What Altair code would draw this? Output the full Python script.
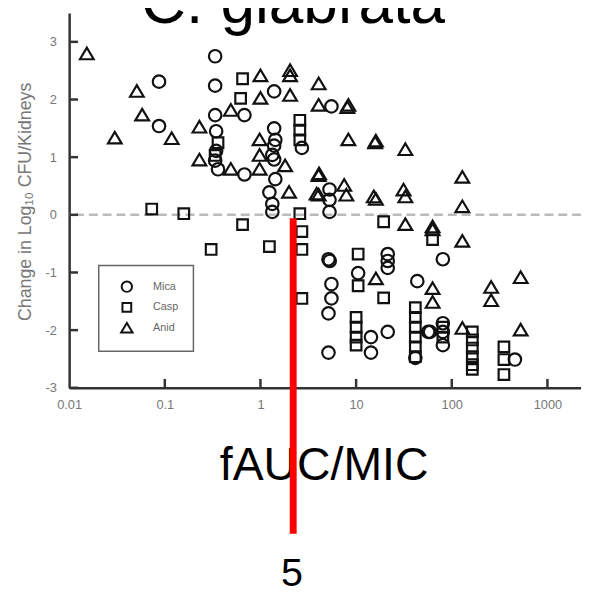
import altair as alt
import pandas as pd

# ---- data (fAUC/MIC, change in log10 CFU) ----
mica_x = [0.087, 0.087, 0.336, 0.336, 0.336, 0.68, 0.344, 1.39, 1.39, 1.43, 2.71, 5.52,
          0.344, 0.336, 0.36, 0.68, 1.33, 1.39, 1.43, 1.24, 1.33, 1.33, 5.27, 5.27, 5.27,
          5.14, 5.3, 5.52, 5.52, 5.14, 5.14, 10.5, 14.3, 14.3, 21.4, 21.4, 21.4, 21.4,
          80.7, 43.6, 41.6, 59.3, 80.7, 80.7, 80.7, 457, 56.6, 1.39]
mica_y = [2.31, 1.54, 2.75, 2.24, 1.73, 1.73, 1.45, 2.14, 1.50, 1.30, 1.16, 1.88,
          1.11, 0.94, 0.79, 0.70, 1.04, 0.96, 0.62, 0.39, 0.19, 0.05, 0.44, 0.26, 0.05,
          -0.77, -0.80, -1.20, -1.45, -1.71, -2.39, -1.01, -2.12, -2.39, -2.03, -0.68, -0.80, -0.92,
          -0.77, -1.15, -2.48, -2.03, -1.88, -2.03, -2.26, -2.51, -2.03, 1.20]

casp_x = [0.073, 0.158, 0.65, 0.62, 0.36, 0.336, 2.58, 2.58, 2.58, 2.58, 19.4, 0.65,
          0.305, 1.24, 2.71, 2.71, 2.71, 10.5, 10.5, 19.4, 10.0, 10.0, 10.0, 10.0, 63,
          41.6, 41.6, 41.6, 41.6, 41.6, 41.6, 80.7, 80.7, 164, 164, 164, 164, 164, 164,
          351, 351, 351]
casp_y = [0.10, 0.02, 2.36, 2.02, 1.25, 1.03, 1.64, 1.47, 1.30, 0.02, -0.12, -0.17,
          -0.60, -0.55, -0.29, -0.60, -1.45, -0.68, -1.23, -1.44, -1.78, -1.95, -2.12, -2.26, -0.43,
          -1.61, -1.78, -1.95, -2.12, -2.29, -2.46, -1.95, -2.12, -2.03, -2.17, -2.31, -2.46, -2.60, -2.68,
          -2.29, -2.51, -2.77]

anid_x = [0.0153, 0.051, 0.058, 0.030, 0.118, 0.23, 0.23, 1.0, 2.04, 2.04, 4.06, 1.0,
          2.04, 4.06, 8.3, 8.1, 0.49, 0.98, 8.3, 16.1, 15.8, 0.49, 0.98, 0.98, 1.81,
          1.99, 4.06, 4.1, 4.06, 3.87, 7.5, 7.9, 15.3, 32.7, 129, 31.3, 32.7, 16.1, 129,
          32.7, 63, 63, 16.1, 63, 63, 129, 258, 258, 525, 525, 129]
anid_y = [2.79, 2.14, 1.73, 1.33, 1.32, 1.52, 0.95, 2.41, 2.50, 2.41, 2.27, 2.02,
          2.07, 1.90, 1.90, 1.86, 1.81, 1.30, 1.30, 1.28, 1.25, 0.79, 0.79, 1.03, 0.85,
          0.39, 0.68, 0.71, 0.34, 0.36, 0.51, 0.34, 0.31, 1.13, 0.65, 0.43, 0.31, 0.27, 0.14,
          -0.17, -0.21, -0.26, -1.11, -1.28, -1.52, -0.46, -1.26, -1.49, -1.09, -2.00, -1.97]

drugs = ["Mica", "Casp", "Anid"]
x_ticks = [0.01, 0.1, 1, 10, 100, 1000]
y_ticks = [-3, -2, -1, 0, 1, 2, 3]
breakpoint_value = [2.2]
title_text = ["C. glabrata"]
breakpoint_label = ["5"]

rows = []
for name, xs, ys in [("Mica", mica_x, mica_y), ("Casp", casp_x, casp_y), ("Anid", anid_x, anid_y)]:
    for a, b in zip(xs, ys):
        rows.append({"fauc": a, "change": b, "drug": name})
df = pd.DataFrame(rows)

FONT = "Liberation Sans"
x_scale = alt.Scale(type="log", domain=[0.01, 2244], nice=False)
y_scale = alt.Scale(domain=[-3, 3.5], nice=False)

TRI = "M-1.1,0.85L0,-1L1.1,0.85Z"
SQ = "M-0.85,-0.85H0.85V0.85H-0.85Z"

x_axis = alt.Axis(values=x_ticks, format="~g", ticks=False, tickSize=0, labelPadding=11,
                  labelFontSize=13, labelColor="#777", labelFont=FONT, labelFlush=False,
                  labelOverlap=False, domainColor="#333", domainWidth=2.5, grid=False,
                  title="fAUC/MIC", titleFontSize=47, titleFont=FONT, titleFontWeight="normal",
                  titleColor="black", titleX=258, titleY=93, titleBaseline="alphabetic",
                  titleAlign="center")
y_axis = alt.Axis(values=y_ticks, ticks=False, tickSize=0, labelPadding=13,
                  labelExpr="'' + datum.value", labelFontSize=13, labelColor="#777",
                  labelFont=FONT, labelOverlap=False, domainColor="#333", domainWidth=2.5,
                  grid=False, title="Change in Log₁₀ CFU/Kidneys", titleAngle=270,
                  titleX=-39, titleY=191, titleAlign="center", titleBaseline="alphabetic",
                  titleFontSize=18, titleFont=FONT, titleColor="#777", titleFontWeight="normal")

points = alt.Chart(df).mark_point(filled=False, color="#111", strokeWidth=2.2, size=160, opacity=1).encode(
    x=alt.X("fauc:Q", scale=x_scale, axis=x_axis),
    y=alt.Y("change:Q", scale=y_scale, axis=y_axis),
    shape=alt.Shape("drug:N", scale=alt.Scale(domain=drugs, range=["circle", SQ, TRI]),
                    legend=alt.Legend(title=None, orient="none", legendX=30, legendY=256,
                                      padding=15, strokeColor="#666",
                                      fillColor="white", symbolSize=110, symbolStrokeWidth=2,
                                      symbolStrokeColor="#111", symbolFillColor="white",
                                      symbolOffset=7, labelOffset=20, labelFontSize=11,
                                      labelColor="#666", labelFont=FONT, rowPadding=3)),
)

zero = alt.Chart(pd.DataFrame({"change": [0]})).mark_rule(
    color="#bbb", strokeWidth=2.5, strokeDash=[9, 5]).encode(
    y=alt.Y("change:Q", scale=y_scale))

yt = alt.Chart(pd.DataFrame({"change": y_ticks})).mark_rule(color="#333", strokeWidth=2.5).encode(
    y=alt.Y("change:Q", scale=y_scale), x=alt.value(0), x2=alt.value(9))

xt = alt.Chart(pd.DataFrame({"fauc": x_ticks[1:]})).mark_rule(color="#333", strokeWidth=2.5).encode(
    x=alt.X("fauc:Q", scale=x_scale), y=alt.value(380), y2=alt.value(371))

red = alt.Chart(pd.DataFrame({"fauc": breakpoint_value})).mark_rule(color="#ff0000", strokeWidth=7).encode(
    x=alt.X("fauc:Q", scale=x_scale), y=alt.value(208), y2=alt.value(528))

title = alt.Chart(pd.DataFrame({"t": title_text})).mark_text(
    font=FONT, fontSize=63, color="black", align="center", baseline="alphabetic").encode(
    text="t:N", x=alt.value(227), y=alt.value(10))

five = alt.Chart(pd.DataFrame({"t": breakpoint_label})).mark_text(
    font=FONT, fontSize=40, color="black", align="center", baseline="alphabetic").encode(
    text="t:N", x=alt.value(226), y=alt.value(581))

chart = alt.layer(zero, points, yt, xt, red, title, five).properties(
    width=519, height=380,
    autosize=alt.AutoSizeParams(type="none"),
    padding={"left": 62, "top": 1, "right": 0, "bottom": 206},
).configure_view(stroke=None).configure_legend(strokeWidth=1.5)

chart.save("out.html", embed_options={"renderer": "svg", "actions": False})
